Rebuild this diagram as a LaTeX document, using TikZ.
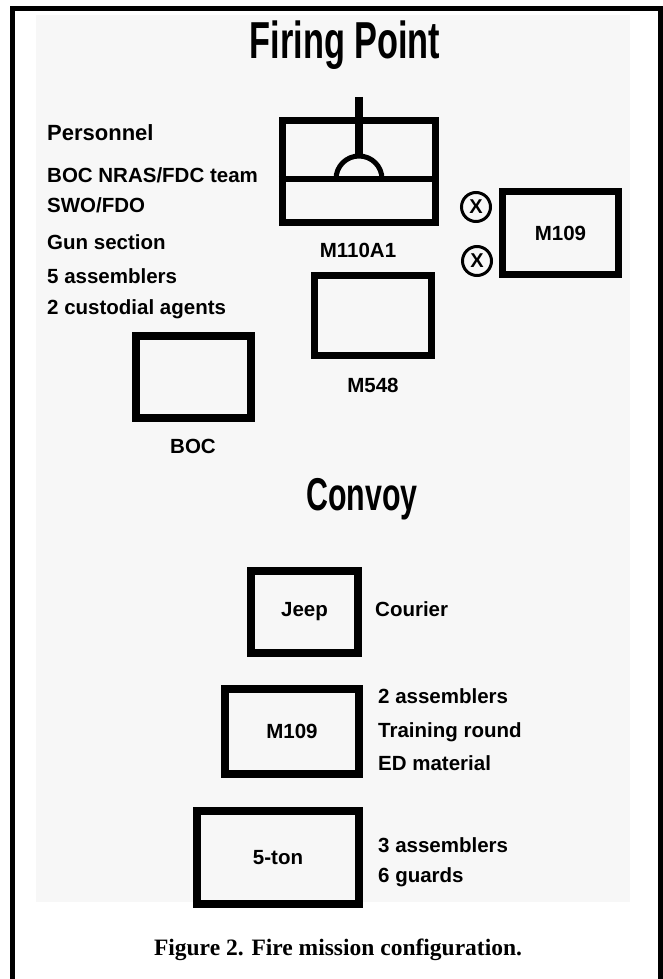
\documentclass[tikz,border=0pt]{standalone}
\usepackage{fontspec}
\setmainfont{Liberation Sans}
\newfontfamily\titlefont[FakeStretch=0.66]{Liberation Sans}
\newfontfamily\capfont{Liberation Serif}
\usetikzlibrary{calc}
\tikzset{
  veh/.style={rectangle,draw,line width=7.5pt,inner sep=0pt,font=\bfseries\fontsize{20.5}{24}\selectfont},
  xmark/.style={circle,draw,line width=3pt,minimum size=29pt,inner sep=0pt,font=\bfseries\fontsize{20}{24}\selectfont},
  ttl/.style={anchor=base,inner sep=0pt,font=\titlefont\bfseries\fontsize{52}{52}\selectfont},
  lbl/.style={anchor=base,inner sep=0pt,font=\bfseries\fontsize{20.5}{24}\selectfont},
  lst/.style={anchor=base west,inner sep=0pt,font=\bfseries\fontsize{20.5}{24}\selectfont},
  bar/.style={line width=6pt},
  frame/.style={line width=5pt}
}

\begin{document}
\begin{tikzpicture}[x=1pt,y=-1pt]
\useasboundingbox (0,0) rectangle (663,979);
% page
\fill[black!3] (36,15) rectangle (630,902);
\draw[frame] (12.5,979) -- (12.5,8.5) -- (660.5,8.5) -- (660.5,979);
% firing point
\node[ttl] (fp) at (345,59) {Firing Point};
\node[lst,font=\bfseries\fontsize{22}{24}\selectfont] (pers) at (47,140) {Personnel};
\node[lst] (p1) at (47,182) {BOC NRAS/FDC team};
\node[lst] (p2) at (47,212) {SWO/FDO};
\node[lst] (p3) at (47,249) {Gun section};
\node[lst] (p4) at (47,283) {5 assemblers};
\node[lst] (p5) at (47,314) {2 custodial agents};
% howitzer
\node[veh,minimum width=153pt,minimum height=102pt] (m110) at (359,171.5) {};
\coordinate (bar) at (359,179);
\coordinate (stem) at (359,97);
\draw[bar] (m110.west |- bar) -- (m110.east |- bar);
\draw[line width=5pt] ($(bar)+(-23,0)$) arc[start angle=180,end angle=360,radius=23];
\draw[line width=8pt] (stem) -- ($(bar)+(0,-24)$);
\node[lbl] (m110l) at (358,257) {M110A1};
\node[veh,minimum width=117pt,minimum height=80pt] (m548) at (373,315.5) {};
\node[lbl] (m548l) at (373,392) {M548};
\node[xmark] (x1) at (476,207) {X};
\node[xmark] (x2) at (477,261) {X};
\node[veh,minimum width=116pt,minimum height=83pt] (m109) at (560.5,233) {M109};
\node[veh,minimum width=115pt,minimum height=82pt] (boc) at (193.5,377) {};
\node[lbl] (bocl) at (193,453) {BOC};
% convoy
\node[ttl,font=\titlefont\bfseries\fontsize{46}{46}\selectfont] (cv) at (362,510) {Convoy};
\node[veh,line width=8pt,minimum width=107pt,minimum height=82pt] (jeep) at (304.5,612) {Jeep};
\node[lst] (jeept) at (375,616) {Courier};
\node[veh,line width=8pt,minimum width=134pt,minimum height=85pt] (m109c) at (292,731.5) {M109};
\node[lst] (c1) at (378,703) {2 assemblers};
\node[lst] (c2) at (378,737) {Training round};
\node[lst] (c3) at (378,770) {ED material};
\node[veh,line width=8pt,minimum width=162pt,minimum height=93pt] (ton) at (278,857.5) {5-ton};
\node[lst] (c4) at (378,852) {3 assemblers};
\node[lst] (c5) at (378,882) {6 guards};
% caption
\node[anchor=base,inner sep=0pt,font=\capfont\bfseries\fontsize{23.5}{26}\selectfont] (cap) at (338,955) {Figure 2. Fire mission configuration.};
\end{tikzpicture}
\end{document}
